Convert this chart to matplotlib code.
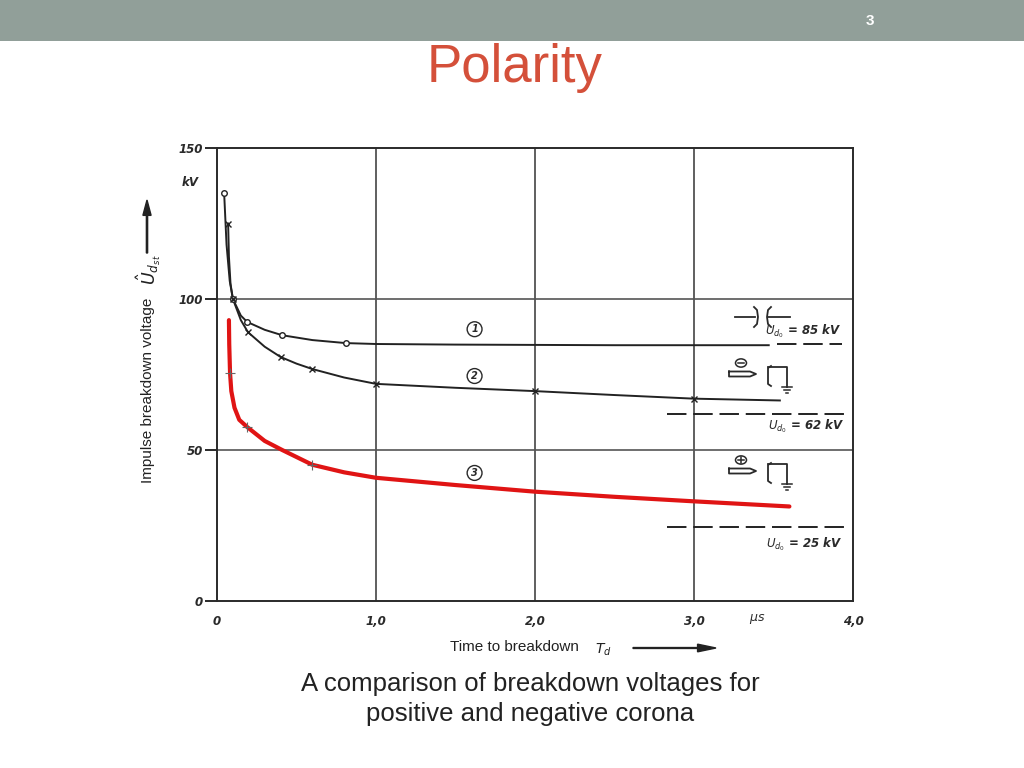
import matplotlib
matplotlib.use("Agg")
import matplotlib.pyplot as plt
from matplotlib.lines import Line2D
from matplotlib.patches import Circle, Rectangle, FancyArrow

# ---------------- data ----------------
x_ticks = [0, 1.0, 2.0, 3.0, 4.0]
x_tick_labels = ["0", "1,0", "2,0", "3,0", "4,0"]
y_ticks = [0, 50, 100, 150]
y_tick_labels = ["0", "50", "100", "150"]

# curve 1 (sphere gap, circles)
c1_x = [0.045, 0.06, 0.08, 0.10, 0.15, 0.19, 0.3, 0.41, 0.6, 0.81, 1.0, 1.5, 2.0, 2.5, 3.0, 3.47]
c1_y = [135, 118, 106, 100, 94.5, 92.4, 89.8, 88.0, 86.4, 85.4, 85.1, 84.9, 84.8, 84.7, 84.7, 84.7]
c1_mx = [0.045, 0.10, 0.19, 0.41, 0.81]
c1_my = [135, 100, 92.4, 88.0, 85.4]

# curve 2 (negative point-plane, crosses)
c2_x = [0.07, 0.075, 0.085, 0.10, 0.15, 0.195, 0.3, 0.40, 0.5, 0.60, 0.8, 1.0, 1.5, 2.0, 2.5, 3.0, 3.54]
c2_y = [125, 114, 105, 100, 93.0, 89.0, 84.2, 80.8, 78.6, 76.8, 74.0, 71.9, 70.6, 69.5, 68.2, 67.0, 66.4]
c2_mx = [0.07, 0.10, 0.195, 0.40, 0.60, 1.0, 2.0, 3.0]
c2_my = [125, 100, 89.0, 80.8, 76.8, 71.9, 69.5, 67.0]

# curve 3 (positive point-plane, red)
c3_x = [0.075, 0.077, 0.082, 0.09, 0.11, 0.14, 0.19, 0.3, 0.41, 0.6, 0.8, 1.0, 1.5, 2.0, 2.5, 3.0, 3.6]
c3_y = [93, 85, 75.5, 69.5, 64, 60, 57.6, 53, 50, 45.1, 42.6, 40.8, 38.4, 36.2, 34.5, 33.0, 31.3]
c3_mx = [0.082, 0.19, 0.60]
c3_my = [75.5, 57.6, 45.1]

# static breakdown levels U_d0
ud0_levels = [85, 62, 24.5]
ud0_labels = ["85 kV", "62 kV", "25 kV"]
ud0_xstart = [3.52, 2.83, 2.83]
ud0_xend = [3.93, 3.96, 3.96]

W, H = 1024, 768
fig = plt.figure(figsize=(10.24, 7.68), dpi=100)
fig.patch.set_facecolor("white")

def fx(px):
    return px / W

def fy(py):
    return 1 - py / H

# header bar
fig.patches.append(Rectangle((0, fy(41)), 1, 41 / H, transform=fig.transFigure,
                             facecolor="#919f99", edgecolor="none", zorder=0))
fig.text(fx(870), fy(21), "3", color="white", fontsize=11, fontweight="bold",
         family="Liberation Sans", ha="center", va="center")
fig.text(fx(515), fy(68), "Polarity", color="#d4503a", fontsize=38,
         family="Liberation Sans", ha="center", va="center")
fig.text(fx(530), fy(684), "A comparison of breakdown voltages for", color="#222222",
         fontsize=18.5, family="Liberation Sans", ha="center", va="center")
fig.text(fx(530), fy(714), "positive and negative corona", color="#222222",
         fontsize=18.5, family="Liberation Sans", ha="center", va="center")

# axes
ax = fig.add_axes([fx(217), fy(601), (853 - 217) / W, (601 - 148) / H])
ax.set_xlim(0, 4.0)
ax.set_ylim(0, 150)
ink = "#2a2a2a"
for s in ax.spines.values():
    s.set_color(ink)
    s.set_linewidth(1.4)

ax.set_xticks(x_ticks)
ax.set_xticklabels(x_tick_labels)
ax.set_yticks(y_ticks)
ax.set_yticklabels(y_tick_labels)
ax.tick_params(axis="x", length=0, pad=10, labelsize=8.5, colors=ink)
ax.tick_params(axis="y", length=9, width=1.4, pad=1, labelsize=8.5, colors=ink, direction="out")
for lab in ax.get_xticklabels() + ax.get_yticklabels():
    lab.set_fontstyle("italic")
    lab.set_fontweight("bold")

for gx in [1.0, 2.0, 3.0]:
    ax.axvline(gx, color="#444444", lw=1.2, zorder=1)
for gy in [50, 100]:
    ax.axhline(gy, color="#555555", lw=1.2, zorder=1)

# curves
ax.plot(c1_x, c1_y, color="#222222", lw=1.4, zorder=3)
ax.plot(c1_mx, c1_my, ls="none", marker="o", ms=4, mfc="white", mec="#222222", mew=1, zorder=4)
ax.plot(c2_x, c2_y, color="#222222", lw=1.4, zorder=3)
ax.plot(c2_mx, c2_my, ls="none", marker="x", ms=5, mec="#222222", mew=1, zorder=4)
ax.plot(c3_x, c3_y, color="#e01414", lw=3, solid_capstyle="round", zorder=3)
ax.plot(c3_mx, c3_my, ls="none", marker="+", ms=7, mec="#666666", mew=0.8, zorder=4)

# U_d0 dashed levels
for lvl, xs, xe in zip(ud0_levels, ud0_xstart, ud0_xend):
    ax.plot([xs, xe], [lvl, lvl], color="#222222", lw=1.4, ls=(0, (10, 3.5)), zorder=2)

# circled curve numbers
for num, yy in zip(["1", "2", "3"], [90, 74.5, 42.4]):
    ax.text(1.62, yy, num, fontsize=7, fontstyle="italic", fontweight="bold",
            ha="center", va="center", color=ink,
            bbox=dict(boxstyle="circle,pad=0.25", fc="white", ec=ink, lw=1))

# U_d0 labels
ud0_lab_px = [(803, 331), (806, 426), (804, 544)]
for (px, py), txt in zip(ud0_lab_px, ud0_labels):
    fig.text(fx(px), fy(py), r"$U_{d_0}$ = " + txt, fontsize=8.5, fontstyle="italic",
             fontweight="bold", color=ink, ha="center", va="center")

# electrode symbols (figure pixel drawing)
def pline(xs, ys, lw=1.3):
    fig.lines.append(Line2D([fx(v) for v in xs], [fy(v) for v in ys],
                            transform=fig.transFigure, color=ink, lw=lw))

# sphere/plate gap symbol
pline([735, 755], [317, 317])
pline([768, 790], [317, 317])
pline([754, 757, 758, 757, 754], [307, 310, 317, 324, 327])
pline([771, 768, 767, 768, 771], [307, 310, 317, 324, 327])

def needle_plane(yc, sign):
    # rod
    pline([729, 750, 756, 750, 729, 729], [yc - 2.5, yc - 2.5, yc, yc + 2.5, yc + 2.5, yc - 2.5])
    # circle with sign
    fig.patches.append(Circle((fx(741), fy(yc - 11)), 5.5 / W, transform=fig.transFigure,
                              fill=False, ec=ink, lw=1.1))
    pline([738, 744], [yc - 11, yc - 11], lw=1.1)
    if sign > 0:
        pline([741, 741], [yc - 14, yc - 8], lw=1.1)
    # plate
    pline([771, 768, 768, 771], [yc - 8, yc - 6, yc + 10, yc + 12])
    pline([768, 787, 787], [yc - 7, yc - 7, yc + 13])
    pline([782, 792], [yc + 13, yc + 13], lw=1.1)
    pline([784, 790], [yc + 16, yc + 16], lw=1.1)
    pline([786, 788], [yc + 19, yc + 19], lw=1.1)

needle_plane(374, -1)
needle_plane(471, +1)

# axis labels
fig.text(fx(190), fy(183), "kV", fontsize=8.5, fontstyle="italic", fontweight="bold",
         color=ink, ha="center", va="center")
fig.text(fx(148), fy(390), "Impulse breakdown voltage", rotation=90, fontsize=11,
         family="Liberation Sans", color="#222222", ha="center", va="center")
fig.text(fx(149), fy(270), r"$\hat{U}_{d_{st}}$", rotation=90, fontsize=12.5,
         color="#222222", ha="center", va="center")
fig.patches.append(FancyArrow(fx(147), fy(253), 0, (253 - 200) / H,
                   width=0.0012, head_width=0.008, head_length=0.02,
                   length_includes_head=True, transform=fig.transFigure,
                   color="#222222"))
fig.text(fx(514), fy(647), "Time to breakdown", fontsize=11, family="Liberation Sans",
         color="#222222", ha="center", va="center")
fig.text(fx(603), fy(650), r"$T_d$", fontsize=10, color="#222222", ha="center", va="center")
fig.text(fx(757), fy(619), r"$\mu s$", fontsize=9, color=ink, ha="center", va="center")
fig.patches.append(FancyArrow(fx(633), fy(648), (716 - 633) / W, 0,
                   width=0.0012, head_width=0.010, head_length=0.018,
                   length_includes_head=True, transform=fig.transFigure,
                   color="#222222"))

fig.savefig("out.png", dpi=100, facecolor="white")
